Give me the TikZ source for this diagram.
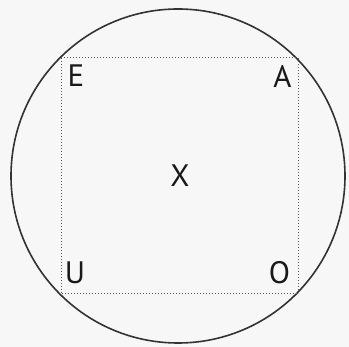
\documentclass[tikz,border=0pt]{standalone}
\usepackage{fontspec}
\setmainfont{PT Sans}
\begin{document}
\begin{tikzpicture}[x=1pt,y=-1pt,
  lbl/.style={font=\fontsize{31}{31}\selectfont, text=black!90, inner sep=0pt, anchor=center},
  ring/.style={draw=black!80, line width=1.6pt},
  sq/.style={draw=black!65, line width=1pt, dotted}]
\useasboundingbox (0,0) rectangle (349,347);
\fill[black!3] (0,0) rectangle (349,347);
\node[ring, circle, minimum size=334pt, inner sep=0pt] (c) at (178,176) {};
\coordinate (tl) at (61,58);
\coordinate (br) at (298,294);
\draw[sq] (tl) rectangle (br);
\node[lbl] (e) at (76,75.5) {E};
\node[lbl] (a) at (282.5,76) {A};
\node[lbl] (u) at (75,272.5) {U};
\node[lbl] (o) at (279.5,272.5) {O};
\node[lbl] (x) at (180,176) {X};
\end{tikzpicture}
\end{document}
